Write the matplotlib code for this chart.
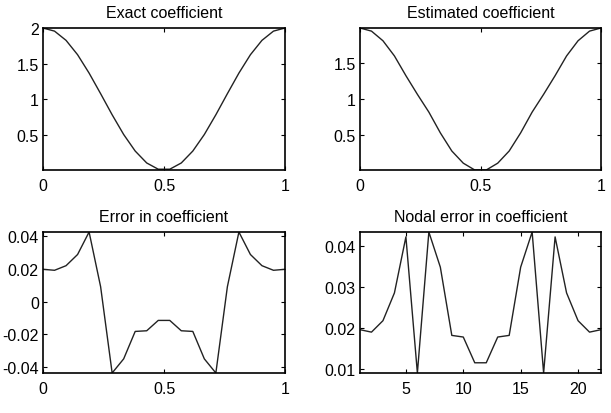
import numpy as np
import matplotlib
matplotlib.use("Agg")
import matplotlib.pyplot as plt

plt.rcParams['font.family'] = ['Liberation Sans', 'DejaVu Sans']
plt.rcParams['axes.unicode_minus'] = False

# nodal values (22 nodes on [0, 1])
exact = [2.000, 1.956, 1.826, 1.624, 1.365, 1.075, 0.778, 0.500, 0.267, 0.099, 0.011,
         0.011, 0.099, 0.267, 0.500, 0.778, 1.075, 1.365, 1.624, 1.826, 1.956, 2.000]
estimated = [1.980, 1.937, 1.804, 1.595, 1.323, 1.066, 0.821, 0.535, 0.285, 0.117, 0.023,
             0.023, 0.117, 0.285, 0.535, 0.821, 1.066, 1.323, 1.595, 1.804, 1.937, 1.980]
error = [0.0196, 0.0190, 0.0218, 0.0286, 0.0423, 0.0090, -0.0435, -0.0349, -0.0182, -0.0178, -0.0115,
         -0.0115, -0.0178, -0.0182, -0.0349, -0.0435, 0.0090, 0.0423, 0.0286, 0.0218, 0.0190, 0.0196]
nodal_error = [0.0196, 0.0190, 0.0218, 0.0286, 0.0423, 0.0090, 0.0435, 0.0349, 0.0182, 0.0178, 0.0115,
               0.0115, 0.0178, 0.0182, 0.0349, 0.0435, 0.0090, 0.0423, 0.0286, 0.0218, 0.0190, 0.0196]

x_nodes = np.linspace(0, 1, len(exact))
node_idx = np.arange(1, len(nodal_error) + 1)

titles = ['Exact coefficient', 'Estimated coefficient',
          'Error in coefficient', 'Nodal error in coefficient']
yticks = [[0.5, 1, 1.5, 2], [0.5, 1, 1.5],
          [-0.04, -0.02, 0, 0.02, 0.04], [0.01, 0.02, 0.03, 0.04]]
xticks = [[0, 0.5, 1], [0, 0.5, 1], [0, 0.5, 1], [5, 10, 15, 20]]

W, H = 611, 414
fig = plt.figure(figsize=(W / 100, H / 100), dpi=100)

# axes boxes in pixels: left, top, right, bottom
boxes = [(43, 29, 285, 171), (360, 29, 601, 171),
         (43, 233, 285, 374), (360, 233, 601, 374)]
series = [(x_nodes, exact), (x_nodes, estimated), (x_nodes, error), (node_idx, nodal_error)]

for k in range(4):
    l, t, r, b = boxes[k]
    ax = fig.add_axes([l / W, 1 - b / H, (r - l) / W, (b - t) / H])
    xs, ys = series[k]
    ax.plot(xs, ys, color='#222222', lw=1.0)
    ax.set_xlim(min(xs), max(xs))
    ax.set_ylim(min(ys), max(ys))
    if k == 0:
        ax.set_ylim(0, 2)
    ax.set_xticks(xticks[k])
    ax.set_yticks(yticks[k])
    ax.set_xticklabels([f'{v:g}' for v in xticks[k]])
    ax.set_yticklabels([f'{v:g}' for v in yticks[k]])
    ax.tick_params(direction='in', top=True, right=True, length=3, width=0.8,
                   labelsize=11.5, pad=3)
    ax.tick_params(axis='x', pad=6)
    for s in ax.spines.values():
        s.set_linewidth(1.2)
    ax.set_title(titles[k], fontsize=11.5, pad=8)

fig.savefig('out.png', dpi=100)
